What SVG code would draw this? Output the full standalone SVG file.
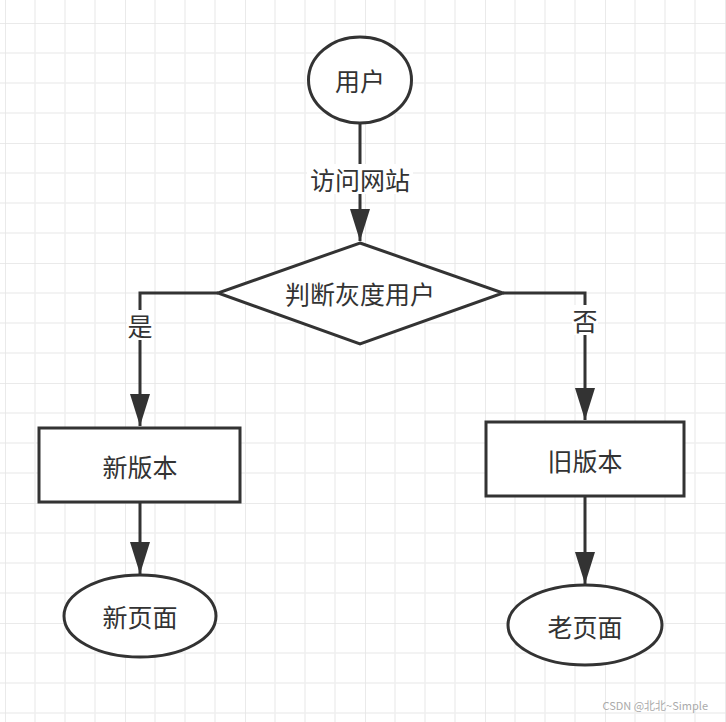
<svg xmlns="http://www.w3.org/2000/svg" width="726" height="722" viewBox="0 0 726 722">
<defs>
<style>
.shape{fill:#fff;stroke:#333;stroke-width:3}
.edge{fill:none;stroke:#333;stroke-width:3}
.t{font-family:"Noto Sans CJK SC","Noto Sans",sans-serif;font-size:25px;fill:#333;text-anchor:middle;dominant-baseline:central}
.lbl{fill:#fff}
.minor{stroke:#f0f0f0;stroke-width:1.5}
.major{stroke:#e4e4e4;stroke-width:1.5}
</style>
<marker id="arr" markerUnits="userSpaceOnUse" markerWidth="34" markerHeight="22" refX="32" refY="10" orient="auto" viewBox="0 0 34 22">
<path d="M0,0 L32,10 L0,20 Z" fill="#333"/>
</marker>
<pattern id="grid" patternUnits="userSpaceOnUse" x="5" y="23" width="120" height="120">
<path class="minor" d="M30,0V120M60,0V120M90,0V120M0,30H120M0,60H120M0,90H120"/>
<path class="major" d="M0,0V120M0,0H120"/>
</pattern>
</defs>
<rect width="726" height="722" fill="#fff"/>
<rect x="0" y="0" width="726" height="722" fill="url(#grid)"/>
<g id="edges">
<line class="edge" x1="360" y1="123" x2="360" y2="241" marker-end="url(#arr)"/>
<polyline class="edge" points="218,293 140,293 140,426" marker-end="url(#arr)"/>
<polyline class="edge" points="503,293 585,293 585,420" marker-end="url(#arr)"/>
<line class="edge" x1="140" y1="502" x2="140" y2="574" marker-end="url(#arr)"/>
<line class="edge" x1="585" y1="496" x2="585" y2="584" marker-end="url(#arr)"/>
<rect class="lbl" x="307" y="164" width="106" height="30"/>
<text class="t" x="360" y="179">访问网站</text>
<rect class="lbl" x="127" y="310" width="26" height="30"/>
<text class="t" x="140" y="325">是</text>
<rect class="lbl" x="572" y="305" width="26" height="30"/>
<text class="t" x="585" y="320">否</text>
</g>
<g id="user">
<ellipse class="shape" cx="360" cy="80" rx="51.5" ry="43"/>
<text class="t" x="360" y="80">用户</text>
</g>
<g id="decision">
<polygon class="shape" points="360,243 503,293 360,344 218,293"/>
<text class="t" x="360" y="293">判断灰度用户</text>
</g>
<g id="newVersion">
<rect class="shape" x="39" y="428" width="201" height="74"/>
<text class="t" x="140" y="466">新版本</text>
</g>
<g id="oldVersion">
<rect class="shape" x="486" y="422" width="198" height="74"/>
<text class="t" x="585" y="460">旧版本</text>
</g>
<g id="newPage">
<ellipse class="shape" cx="140" cy="616" rx="76" ry="41"/>
<text class="t" x="140" y="616">新页面</text>
</g>
<g id="oldPage">
<ellipse class="shape" cx="585" cy="625" rx="77" ry="40"/>
<text class="t" x="585" y="626">老页面</text>
</g>
<text x="708" y="710" font-family="'Noto Sans CJK SC','Noto Sans',sans-serif" font-size="11" fill="#aaa" text-anchor="end">CSDN @北北~Simple</text>
</svg>
